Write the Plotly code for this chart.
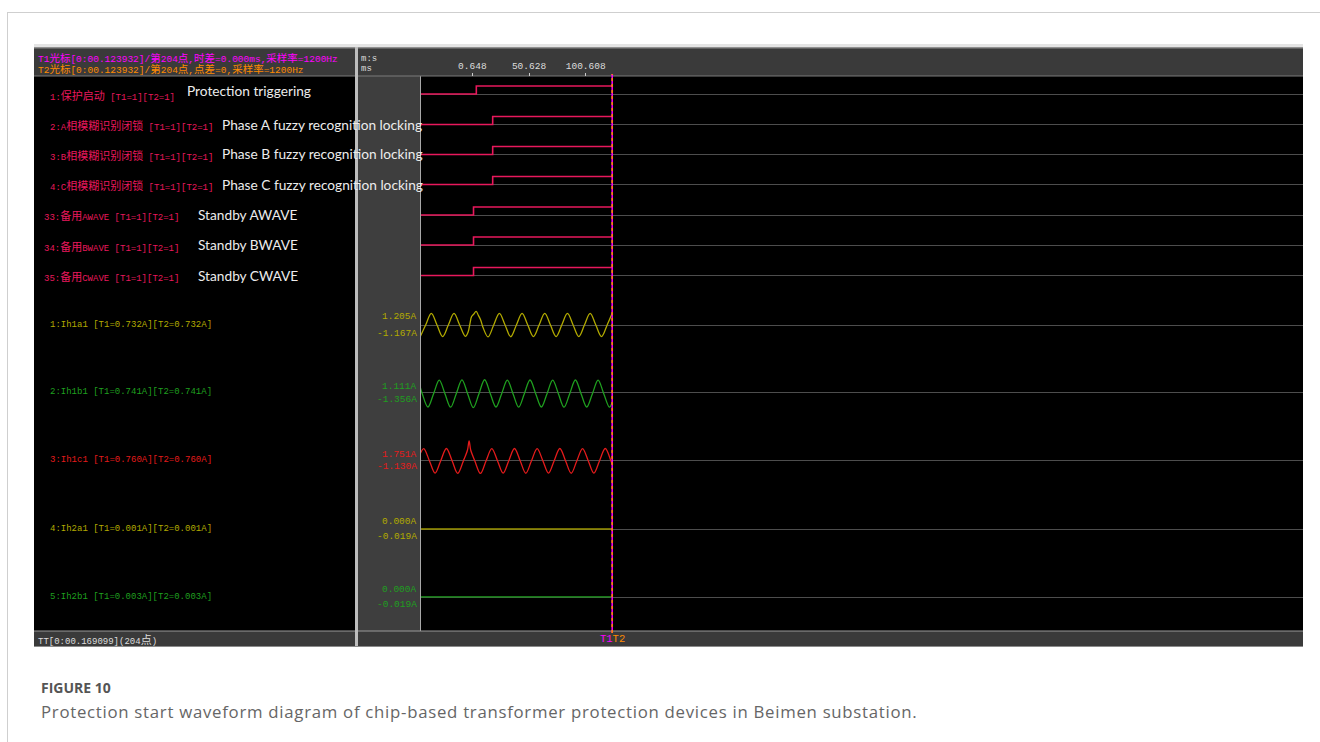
import re
import plotly.graph_objects as go

W, H = 1320, 742

# ---------------- data ----------------
time_start_ms = -45.24
cursor_ms = 123.93
x_tick_vals = [0.648, 50.628, 100.608]
x_tick_text = ["0.648", "50.628", "100.608"]

header_t1 = "T1光标[0:00.123932]/第204点,时差=0.000ms,采样率=1200Hz"
header_t2 = "T2光标[0:00.123932]/第204点,点差=0,采样率=1200Hz"
axis_unit_lines = ["m:s", "ms"]
status_text = "TT[0:00.169099](204点)"

digital_names = [
    "1:保护启动 [T1=1][T2=1]",
    "2:A相模糊识别闭锁 [T1=1][T2=1]",
    "3:B相模糊识别闭锁 [T1=1][T2=1]",
    "4:C相模糊识别闭锁 [T1=1][T2=1]",
    "33:备用AWAVE [T1=1][T2=1]",
    "34:备用BWAVE [T1=1][T2=1]",
    "35:备用CWAVE [T1=1][T2=1]",
]
digital_notes = [
    "Protection triggering",
    "Phase A fuzzy recognition locking",
    "Phase B fuzzy recognition locking",
    "Phase C fuzzy recognition locking",
    "Standby AWAVE",
    "Standby BWAVE",
    "Standby CWAVE",
]
digital_step_ms = [4.17, 18.6, 18.6, 18.6, 1.7, 1.7, 1.7]
digital_before = [0, 0, 0, 0, 0, 0, 0]
digital_after = [1, 1, 1, 1, 1, 1, 1]

ia_t = [-45.24, -40.5, -35.5, -30.5, -25.5, -20.5, -15.5, -10.5, -5.5, -3.0, -1.5, 0.0, 1.8, 4.0,
        6.0, 8.0, 10.0, 14.5, 19.5, 24.5, 29.5, 34.5, 39.5, 44.5, 49.5, 54.5, 59.5, 64.5, 69.5,
        74.5, 79.5, 84.5, 89.5, 94.5, 99.5, 104.5, 109.5, 114.5, 119.5, 123.93]
ia_v = [-1.02, 0.0, 1.03, 0.0, -1.03, 0.0, 1.03, 0.0, -1.0, -0.6, 0.1, 0.75, 0.95, 1.205,
        0.85, 0.45, -0.2, -1.05, 0.0, 1.03, 0.0, -1.04, 0.0, 1.03, 0.0, -1.03, 0.0, 1.03, 0.0,
        -1.03, 0.0, 1.02, 0.0, -1.03, 0.0, 1.03, 0.0, -1.03, 0.0, 1.03]

ib_t = [-45.24, -43.5, -38.5, -33.5, -28.5, -23.5, -18.5, -13.5, -8.5, -3.5, 1.5, 6.5, 11.5,
        16.5, 21.5, 26.5, 31.5, 36.5, 41.5, 46.5, 51.5, 56.5, 61.5, 66.5, 71.5, 76.5, 81.5,
        86.5, 91.5, 96.5, 101.5, 106.5, 111.5, 116.5, 121.5, 123.93]
ib_v = [0.45, -0.12, -1.30, -0.12, 1.08, -0.12, -1.32, -0.12, 1.10, -0.12, -1.356, -0.12, 1.111,
        -0.12, -1.30, -0.12, 1.08, -0.12, -1.31, -0.12, 1.09, -0.12, -1.30, -0.12, 1.08, -0.12,
        -1.32, -0.12, 1.09, -0.12, -1.30, -0.12, 1.08, -0.12, -1.31, -0.90]

ic_t = [-45.24, -42.2, -37.2, -32.2, -27.2, -22.2, -17.2, -12.2, -7.2, -3.6, -2.2, -0.8, 2.8,
        7.8, 12.8, 17.8, 22.8, 27.8, 32.8, 37.8, 42.8, 47.8, 52.8, 57.8, 62.8, 67.8, 72.8, 77.8,
        82.8, 87.8, 92.8, 97.8, 102.8, 107.8, 112.8, 117.8, 122.8, 123.93]
ic_v = [0.63, 1.07, 0.0, -1.10, 0.0, 1.08, 0.0, -1.12, 0.0, 0.95, 1.751, 0.95, 0.0,
        -1.13, 0.0, 1.07, 0.0, -1.10, 0.0, 1.08, 0.0, -1.11, 0.0, 1.07, 0.0, -1.10, 0.0, 1.08,
        0.0, -1.11, 0.0, 1.07, 0.0, -1.10, 0.0, 1.08, 0.0, -0.35]

ih2a_t = [-45.24, 123.93]
ih2a_v = [0.001, 0.001]
ih2b_t = [-45.24, 123.93]
ih2b_v = [0.003, 0.003]

analog_names = [
    "1:Ih1a1 [T1=0.732A][T2=0.732A]",
    "2:Ih1b1 [T1=0.741A][T2=0.741A]",
    "3:Ih1c1 [T1=0.760A][T2=0.760A]",
    "4:Ih2a1 [T1=0.001A][T2=0.001A]",
    "5:Ih2b1 [T1=0.003A][T2=0.003A]",
]
analog_max_labels = ["1.205A", "1.111A", "1.751A", "0.000A", "0.000A"]
analog_min_labels = ["-1.167A", "-1.356A", "-1.130A", "-0.019A", "-0.019A"]

caption_title = "FIGURE 10"
caption_text = ("Protection start waveform diagram of chip-based transformer protection "
                "devices in Beimen substation.")

# ---------------- style / layout ----------------
PINK = "#e8185c"
YEL = "#b2aa00"
GRN = "#1f9f1f"
RED = "#e41b1b"
MAG = "#ff00ff"
ORG = "#ff8a00"
analog_colors = [YEL, GRN, RED, "#9c9600", GRN]
analog_text_colors = [YEL, GRN, RED, YEL, GRN]
analog_series = [(ia_t, ia_v), (ib_t, ib_v), (ic_t, ic_v), (ih2a_t, ih2a_v), (ih2b_t, ih2b_v)]

digital_base_px = [94, 124.5, 154.5, 184.5, 215, 245, 275.5]
digital_label_x = [49, 49, 49, 49, 43, 43, 43]
digital_note_x = [186, 220.7, 220.7, 220.7, 196.7, 196.7, 196.7]
analog_base_px = [325, 392.3, 460.7, 529, 597]
analog_max_y = [316.7, 386, 454, 521.7, 589.3]
analog_min_y = [333.3, 400, 466.7, 536, 604]
PX_PER_A = 11.3

CJK_RE = r'([\u3000-\u9fff\uff00-\uffef]+)'


def X(px):
    return px / W


def Y(py):
    return 1 - py / H


def cjk(s, size):
    return re.sub(CJK_RE,
                  lambda m: ('<span style="font-family:\'Noto Sans CJK SC\';font-size:%spx">%s</span>'
                             % (size, m.group(1))), s)


def rich(s, color, asc_size, cjk_size):
    out = []
    for p in re.split(CJK_RE, s):
        if not p:
            continue
        if re.match(CJK_RE, p):
            out.append('<span style="font-family:\'Noto Sans CJK SC\';font-size:%spx;color:%s">%s</span>'
                       % (cjk_size, color, p))
        else:
            out.append('<span style="font-size:%spx;color:%s">%s</span>' % (asc_size, color, p))
    return "".join(out)


fig = go.Figure()
layout = dict(
    width=W, height=H, margin=dict(l=0, r=0, t=0, b=0),
    paper_bgcolor="white", plot_bgcolor="rgba(0,0,0,0)", showlegend=False,
    xaxis=dict(domain=[X(421), X(1303)], range=[-44.6, 732.9], anchor="free",
               position=Y(76), side="top", tickvals=x_tick_vals, ticktext=x_tick_text,
               ticks="outside", ticklen=3, tickcolor="#cccccc", tickwidth=1,
               tickfont=dict(family="Liberation Mono", size=9.5, color="#dddddd"),
               showgrid=False, zeroline=False, showline=False, fixedrange=True),
)

axis_i = 0


def add_axis(dom, rng):
    global axis_i
    axis_i += 1
    name = "yaxis" if axis_i == 1 else "yaxis%d" % axis_i
    ref = "y" if axis_i == 1 else "y%d" % axis_i
    layout[name] = dict(domain=dom, range=rng, anchor="x", showgrid=False,
                        showticklabels=False, ticks="", showline=False, fixedrange=True,
                        zeroline=True, zerolinecolor="#4d4d4d", zerolinewidth=1)
    return ref


# digital channels
for i in range(len(digital_names)):
    b = digital_base_px[i]
    ref = add_axis([Y(b + 4), Y(b - 12)], [-0.5, 1.5])
    fig.add_trace(go.Scatter(
        x=[time_start_ms, digital_step_ms[i], cursor_ms],
        y=[digital_before[i], digital_after[i], digital_after[i]],
        mode="lines", line=dict(color=PINK, width=1.6, shape="hv"),
        xaxis="x", yaxis=ref, hoverinfo="skip"))

# analog channels
half = 24 / PX_PER_A
for i, (tt, vv) in enumerate(analog_series):
    b = analog_base_px[i]
    ref = add_axis([Y(b + 24), Y(b - 24)], [-half, half])
    shape = "spline" if len(tt) > 2 else "linear"
    fig.add_trace(go.Scatter(
        x=tt, y=vv, mode="lines",
        line=dict(color=analog_colors[i], width=1.3, shape=shape, smoothing=1.0),
        xaxis="x", yaxis=ref, hoverinfo="skip"))

shapes = []


def rect(x0, y0, x1, y1, fill, layer="below"):
    shapes.append(dict(type="rect", xref="paper", yref="paper", x0=X(x0), x1=X(x1),
                       y0=Y(y1), y1=Y(y0), fillcolor=fill, line=dict(width=0), layer=layer))


def hline(x0, x1, y, color, width=1):
    shapes.append(dict(type="line", xref="paper", yref="paper", x0=X(x0), x1=X(x1),
                       y0=Y(y), y1=Y(y), line=dict(color=color, width=width), layer="below"))


def vline(x, y0, y1, color, width=1):
    shapes.append(dict(type="line", xref="paper", yref="paper", x0=X(x), x1=X(x),
                       y0=Y(y0), y1=Y(y1), line=dict(color=color, width=width), layer="below"))


# outer page frame
hline(7, 1320, 12.5, "#cfcfcf")
vline(7.5, 12, 742, "#cfcfcf")
# window strip above
rect(34, 44, 1303, 47.5, "#e4e4e4")
# headers
rect(34, 47.5, 355, 76, "#3a3a3a")
rect(358, 47.5, 1303, 76, "#3a3a3a")
hline(34, 1303, 48, "#8a8a8a")
# black areas
rect(34, 76, 355, 631, "#000000")
rect(420, 76, 1303, 631, "#000000")
# grey value column
rect(358, 76, 420, 631, "#3e3e3e")
vline(420.5, 76, 631, "#a8a8a8")
# borders between header and body
hline(34, 355, 76, "#7a7a7a")
hline(358, 1303, 76, "#7a7a7a")
# separator between panels
rect(355, 47.5, 358, 646, "#bdbdbd")
# bottom status bars
rect(34, 631, 355, 646, "#3a3a3a")
rect(358, 631, 1303, 646, "#3a3a3a")
hline(34, 355, 631, "#9a9a9a")
hline(358, 1303, 631, "#9a9a9a")
hline(34, 1303, 646.5, "#8a8a8a")

# cursor lines (T1 magenta, T2 orange)
shapes.append(dict(type="line", xref="x", yref="paper", x0=cursor_ms, x1=cursor_ms,
                   y0=Y(633), y1=Y(74), line=dict(color=MAG, width=1.5), layer="above"))
shapes.append(dict(type="line", xref="x", yref="paper", x0=cursor_ms, x1=cursor_ms,
                   y0=Y(633), y1=Y(74), line=dict(color=ORG, width=1.5, dash="3px,3px"),
                   layer="above"))
layout["shapes"] = shapes

ann = []
MONO = "Liberation Mono, Noto Sans CJK SC"


def text(x, y, s, color, size, family=MONO, xanchor="left", xref="paper"):
    ann.append(dict(x=x if xref != "paper" else X(x), y=Y(y), xref=xref, yref="paper",
                    text=s, showarrow=False, xanchor=xanchor, yanchor="middle", align="left",
                    borderpad=0, font=dict(family=family, size=size, color=color)))


# header (two lines in one block)
text(37, 63.3, rich(header_t1, MAG, 9.5, 10.5) + "<br>" + rich(header_t2, ORG, 9.5, 10.5),
     MAG, 8.3)
text(360, 63.5, rich(axis_unit_lines[0], "#dddddd", 9, 9) + "<br>"
     + rich(axis_unit_lines[1], "#dddddd", 9, 9), "#dddddd", 7.9)

# digital labels
for i in range(len(digital_names)):
    b = digital_base_px[i]
    text(digital_label_x[i], b + 0.5, cjk(digital_names[i], 11), PINK, 9)
    text(digital_note_x[i], b - (4 if i == 0 else 0.5), digital_notes[i], "#ececec", 13.7,
         family="Lato, Open Sans")

# analog labels
for i in range(len(analog_names)):
    b = analog_base_px[i]
    c = analog_text_colors[i]
    text(49, b - 0.3, analog_names[i], c, 9)
    text(418.5, analog_max_y[i], analog_max_labels[i], c, 9.5, xanchor="right")
    text(418.5, analog_min_y[i], analog_min_labels[i], c, 9.5, xanchor="right")

# status bar
text(37, 638.5, cjk(status_text, 11), "#dddddd", 9)
text(cursor_ms, 639, '<span style="color:%s">T1</span><span style="color:%s">T2</span>'
     % (MAG, ORG), MAG, 10.5, xanchor="center", xref="x")

# caption
text(40, 687, "<b>" + caption_title + "</b>", "#555555", 14, family="Open Sans")
text(40, 711, '<span style="letter-spacing:0.72px">' + caption_text + "</span>", "#666666", 16.8,
     family="Open Sans")

layout["annotations"] = ann
fig.update_layout(**layout)
fig.write_html("out.html", config={"displayModeBar": False},
               post_script="document.body.style.margin='0px';document.body.style.padding='0px';")
